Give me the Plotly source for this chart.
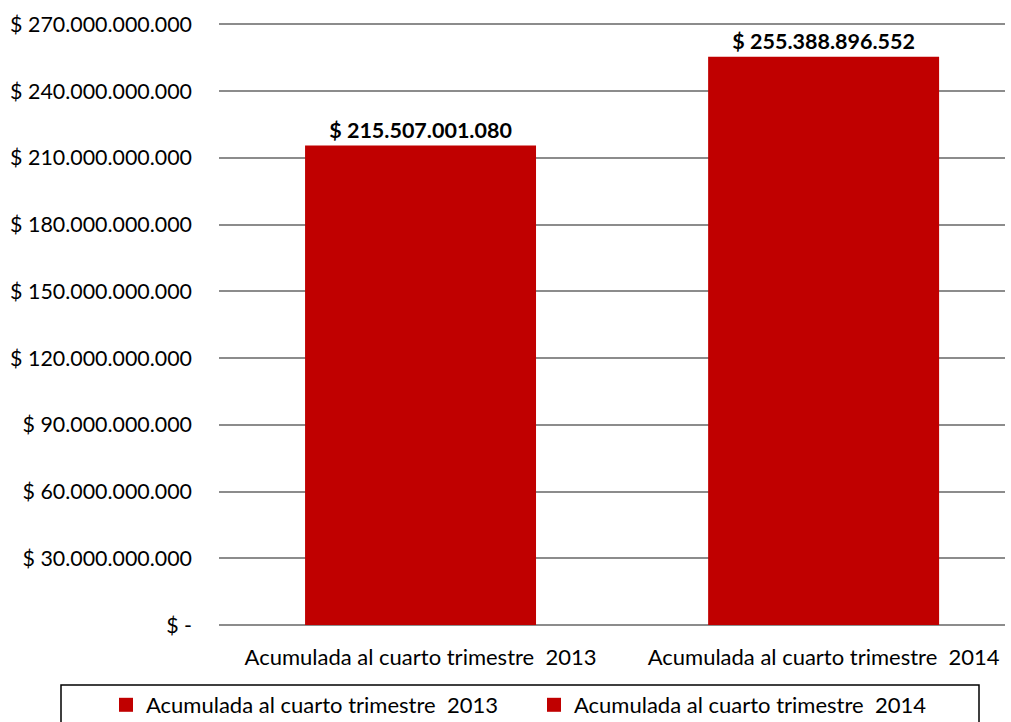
import plotly.graph_objects as go

categories = ["Acumulada al cuarto trimestre\u00a0 2013", "Acumulada al cuarto trimestre\u00a0 2014"]
values = [215507001080, 255388896552]
tick_values = [0, 30e9, 60e9, 90e9, 120e9, 150e9, 180e9, 210e9, 240e9, 270e9]


def fmt(v):
    v = int(round(v))
    if v == 0:
        return "$ -"
    return "$ " + f"{v:,}".replace(",", ".")


tick_text = [fmt(v) for v in tick_values]

FONT = "Lato"
RED = "#C00000"
YMAX = 270.6e9

fig = go.Figure()
for cat, val in zip(categories, values):
    fig.add_trace(go.Bar(
        x=[cat], y=[val], name=cat, showlegend=False, legendgroup=cat,
        marker=dict(color=RED, line=dict(width=0)),
        width=0.573,
        text=[fmt(val)], textposition="outside",
        textfont=dict(family=FONT, size=21.5, color="#000000", weight="bold"),
        cliponaxis=False,
    ))
for cat in categories:
    fig.add_trace(go.Scatter(
        x=[cat], y=[None], name=cat, legendgroup=cat, mode="markers",
        marker=dict(symbol="square", size=14, color=RED, line=dict(width=0)),
        showlegend=True, hoverinfo="skip",
    ))

L, R, T, B = 219, 6, 23, 97
W, H = 1011, 722
pw = W - L - R
ph = H - T - B

fig.update_layout(
    width=W, height=H,
    margin=dict(l=L, r=R, t=T, b=B, pad=0, autoexpand=False),
    paper_bgcolor="white", plot_bgcolor="white",
    barmode="overlay",
    font=dict(family=FONT, size=21, color="#000000"),
    xaxis=dict(
        type="category", range=[-0.5, 1.45],
        showgrid=False, zeroline=False, showline=False,
        ticks="", tickfont=dict(family=FONT, size=22),
        ticklabelstandoff=17,
    ),
    yaxis=dict(
        range=[0, YMAX], tickvals=tick_values, ticktext=tick_text,
        showgrid=True, gridcolor="#8c8c8c", gridwidth=1.5,
        zeroline=True, zerolinecolor="#8c8c8c", zerolinewidth=1.5,
        showline=False, ticks="",
        tickfont=dict(family=FONT, size=21.4),
        ticklabelstandoff=26,
    ),
    showlegend=True,
    legend=dict(
        orientation="h", xanchor="left", yanchor="top",
        xref="paper", yref="paper",
        x=(106 - L) / pw, y=-(684 - (H - B)) / ph,
        entrywidth=383, entrywidthmode="pixels",
        font=dict(family=FONT, size=22),
        bgcolor="rgba(0,0,0,0)", borderwidth=0,
        itemclick=False, itemdoubleclick=False,
    ),
    shapes=[dict(
        type="rect", xref="paper", yref="paper",
        x0=(61 - L) / pw, x1=(979 - L) / pw,
        y0=-(685 - (H - B)) / ph, y1=-(740 - (H - B)) / ph,
        line=dict(color="#000000", width=1.5), fillcolor="rgba(0,0,0,0)",
        layer="above",
    )],
)

fig.write_html(
    "out.html",
    config={"displayModeBar": False},
    post_script="document.body.style.margin='0';document.body.style.overflow='hidden';",
)
